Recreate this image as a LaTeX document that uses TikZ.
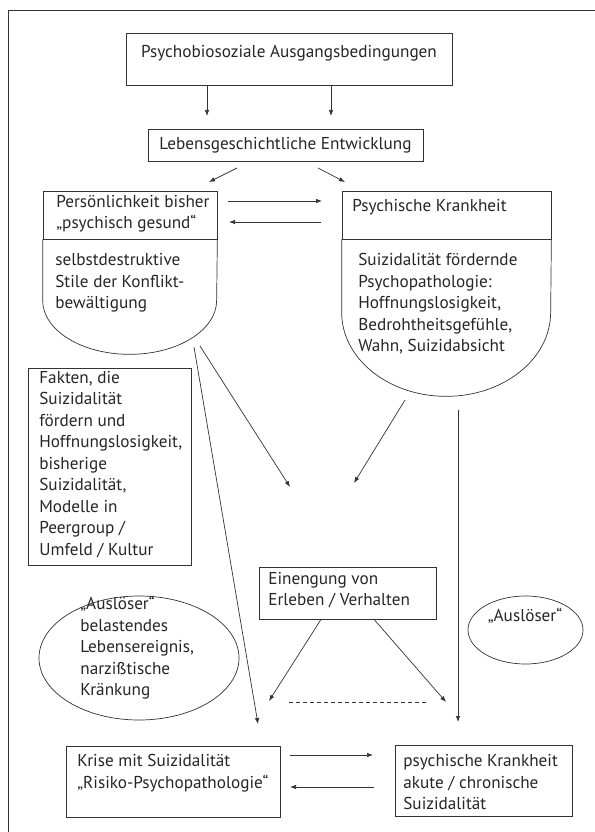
\documentclass[tikz,border=0pt]{standalone}
\usepackage{fontspec}
\setmainfont{PT Sans}
\usetikzlibrary{arrows.meta,shapes.geometric}

\begin{document}
\begin{tikzpicture}[x=1pt,y=1pt,
    line width=0.7pt, draw=black!80, text=black!85,
    font=\fontsize{17.2}{21.5}\selectfont,
    kasten/.style={draw, rectangle, inner sep=0pt},
    txt/.style={align=left, inner sep=0pt, anchor=west},
    pfeil/.style={-{Latex[length=6pt,width=4.5pt]}}]
  \useasboundingbox (0,0) rectangle (594,-832);
  \draw (600,-10) -- (8,-10) -- (8,-840);

  \node[kasten, minimum width=326pt, text height=24.5pt, text depth=27.5pt, anchor=north] (urspr) at (289,-33) {Psychobiosoziale Ausgangsbedingungen};
  \node[kasten, minimum width=275pt, minimum height=32pt] (leben) at (285.5,-145) {Lebensgeschichtliche Entwicklung};

  \node[kasten, minimum width=174pt, minimum height=48pt] (pers) at (130,-215) {};
  \node[txt] (perstext) at (56,-213.5) {Persönlichkeit bisher\\„psychisch gesund“};
  \draw (pers.south west) -- ++(0,-61) arc[start angle=180, end angle=360, x radius=87, y radius=54] -- (pers.south east);
  \node[txt] (stile) at (55,-283) {selbstdestruktive\\Stile der Konflikt-\\bewältigung};

  \node[kasten, minimum width=209pt, minimum height=48pt] (krank) at (446.5,-215) {};
  \node[txt] (kranktext) at (352,-207) {Psychische Krankheit};
  \draw (krank.south west) -- ++(0,-73) arc[start angle=180, end angle=360, x radius=104.5, y radius=84] -- (krank.south east);
  \node[txt] (pathol) at (358,-304) {Suizidalität fördernde\\Psychopathologie:\\Hoffnungslosigkeit,\\Bedrohtheitsgefühle,\\Wahn, Suizidabsicht};

  \node[kasten, minimum width=163pt, minimum height=197pt] (fakten) at (109.5,-466.5) {};
  \node[txt] (faktentext) at (39,-464.5) {Fakten, die\\Suizidalität\\fördern und\\Hoffnungslosigkeit,\\bisherige\\Suizidalität,\\Modelle in\\Peergroup /\\Umfeld / Kultur};

  \node[draw, ellipse, minimum width=200pt, minimum height=124pt, inner sep=0pt] (ausl) at (139,-658) {};
  \node[txt] (ausltext) at (80,-648) {„Auslöser“\\belastendes\\Lebensereignis,\\narzißtische\\Kränkung};

  \node[kasten, minimum width=177pt, minimum height=52pt] (eineng) at (347.5,-593) {};
  \node[txt] (einengtext) at (268,-590) {Einengung von\\Erleben / Verhalten};

  \node[draw, ellipse, minimum width=115pt, minimum height=68pt, inner sep=0pt] (ausl2) at (525.5,-630) {};
  \node[inner sep=0pt] (ausl2text) at (525,-616) {„Auslöser“};

  \node[kasten, minimum width=214pt, minimum height=71pt] (krise) at (173,-781.5) {};
  \node[txt] (krisetext) at (77,-773) {Krise mit Suizidalität\\„Risiko-Psychopathologie“};

  \node[kasten, minimum width=177pt, minimum height=71pt] (akut) at (483.5,-780.5) {};
  \node[txt] (akuttext) at (403,-782.5) {psychische Krankheit\\akute / chronische\\Suizidalität};

  \coordinate (u1) at (207,-116);
  \coordinate (u2) at (331,-116);
  \draw[pfeil] (urspr.south -| u1) -- (u1);
  \draw[pfeil] (urspr.south -| u2) -- (u2);

  \coordinate (l1) at (237,-168);
  \coordinate (l1e) at (209,-182);
  \coordinate (l2) at (318,-168);
  \coordinate (l2e) at (345,-182);
  \draw[pfeil] (l1) -- (l1e);
  \draw[pfeil] (l2) -- (l2e);

  \coordinate (p1) at (228,-201);
  \coordinate (k1) at (322,-201);
  \coordinate (k2) at (321,-222);
  \coordinate (p2) at (229,-222);
  \draw[pfeil] (p1) -- (k1);
  \draw[pfeil] (k2) -- (p2);

  \coordinate (s1) at (194,-347);
  \coordinate (s2) at (200,-346);
  \coordinate (m1) at (290,-487);
  \coordinate (r1) at (405,-400);
  \coordinate (m2) at (354,-483);
  \coordinate (r2) at (458,-410);
  \coordinate (kr) at (258,-724);
  \coordinate (ak) at (458,-722);
  \draw[pfeil] (s1) -- (kr);
  \draw[pfeil] (s2) -- (m1);
  \draw[pfeil] (r1) -- (m2);
  \draw[pfeil] (r2) -- (ak);

  \coordinate (e1) at (269,-701);
  \coordinate (e2) at (446,-702);
  \draw[pfeil] (eineng.south -| 321,0) -- (e1);
  \draw[pfeil] (eineng.south -| 374,0) -- (e2);
  \draw[dash pattern=on 4pt off 3pt] (289,-702) -- (426,-702);

  \coordinate (kr1) at (290,-755);
  \coordinate (ak1) at (373,-755);
  \coordinate (ak2) at (374,-787);
  \coordinate (kr2) at (290,-787);
  \draw[pfeil] (kr1) -- (ak1);
  \draw[pfeil] (ak2) -- (kr2);
\end{tikzpicture}
\end{document}
